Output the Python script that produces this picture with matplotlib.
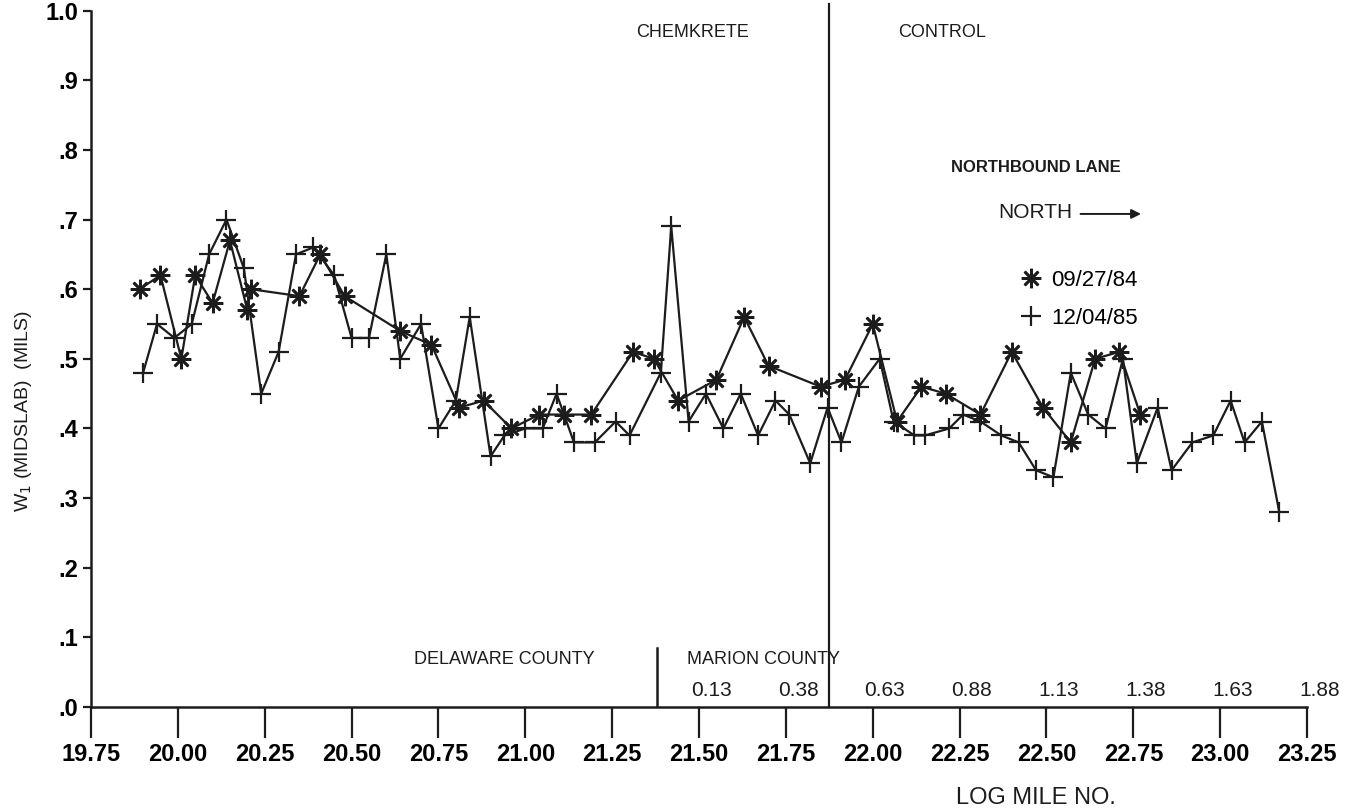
import numpy as np
import matplotlib.pyplot as plt

# W1 deflection readings along the northbound lane, 09/27/84 survey
miles_84 = [19.89, 19.95, 20.01, 20.05, 20.10, 20.15, 20.20, 20.21, 20.35, 20.41,
            20.48, 20.64, 20.73, 20.81, 20.88, 20.96, 21.04, 21.11, 21.19, 21.31,
            21.37, 21.44, 21.55, 21.63, 21.70, 21.85, 21.92, 22.00, 22.07, 22.14,
            22.21, 22.31, 22.40, 22.49, 22.57, 22.64, 22.71, 22.77]
w1_84 = [0.60, 0.62, 0.50, 0.62, 0.58, 0.67, 0.57, 0.60, 0.59, 0.65,
         0.59, 0.54, 0.52, 0.43, 0.44, 0.40, 0.42, 0.42, 0.42, 0.51,
         0.50, 0.44, 0.47, 0.56, 0.49, 0.46, 0.47, 0.55, 0.41, 0.46,
         0.45, 0.42, 0.51, 0.43, 0.38, 0.50, 0.51, 0.42]

# same stations, 12/04/85 survey
miles_85 = [19.90, 19.94, 19.99, 20.04, 20.09, 20.14, 20.19, 20.24, 20.29, 20.34,
            20.39, 20.45, 20.50, 20.55, 20.60, 20.64, 20.70, 20.75, 20.80, 20.84,
            20.90, 20.94, 21.00, 21.05, 21.09, 21.14, 21.20, 21.26, 21.30, 21.39,
            21.42, 21.47, 21.52, 21.57, 21.62, 21.67, 21.72, 21.76, 21.82, 21.87,
            21.91, 21.96, 22.02, 22.06, 22.12, 22.15, 22.22, 22.26, 22.31, 22.37,
            22.42, 22.47, 22.52, 22.57, 22.62, 22.67, 22.72, 22.76, 22.82, 22.86,
            22.92, 22.98, 23.03, 23.07, 23.12, 23.17]
w1_85 = [0.48, 0.55, 0.53, 0.55, 0.65, 0.70, 0.63, 0.45, 0.51, 0.65,
         0.66, 0.62, 0.53, 0.53, 0.65, 0.50, 0.55, 0.40, 0.44, 0.56,
         0.36, 0.39, 0.40, 0.40, 0.45, 0.38, 0.38, 0.41, 0.39, 0.48,
         0.69, 0.41, 0.45, 0.40, 0.45, 0.39, 0.44, 0.42, 0.35, 0.43,
         0.38, 0.46, 0.50, 0.41, 0.39, 0.39, 0.40, 0.42, 0.41, 0.39,
         0.38, 0.34, 0.33, 0.48, 0.42, 0.40, 0.50, 0.35, 0.43, 0.34,
         0.38, 0.39, 0.44, 0.38, 0.41, 0.28]

x_ticks = [19.75, 20.00, 20.25, 20.50, 20.75, 21.00, 21.25, 21.50,
           21.75, 22.00, 22.25, 22.50, 22.75, 23.00, 23.25]
x_tick_labels = ['19.75', '20.00', '20.25', '20.50', '20.75', '21.00', '21.25', '21.50',
                 '21.75', '22.00', '22.25', '22.50', '22.75', '23.00', '23.25']
y_ticks = [0.0, 0.1, 0.2, 0.3, 0.4, 0.5, 0.6, 0.7, 0.8, 0.9, 1.0]
y_tick_labels = ['.0', '.1', '.2', '.3', '.4', '.5', '.6', '.7', '.8', '.9', '1.0']

# Marion County mileposts printed above the log mile ticks
marion_ticks = [21.50, 21.75, 22.00, 22.25, 22.50, 22.75, 23.00, 23.25]
marion_labels = ['0.13', '0.38', '0.63', '0.88', '1.13', '1.38', '1.63', '1.88']

section_break = 21.875   # chemkrete / control boundary
county_line = 21.38      # Delaware / Marion county line

ink = '#1c1c1c'
plt.rcParams['font.family'] = ['Liberation Sans', 'DejaVu Sans']

fig = plt.figure(figsize=(13.58, 8.10), dpi=100)
ax = fig.add_axes([0.067, 0.127, 0.8955, 0.860])

l84, = ax.plot(miles_84, w1_84, color=ink, lw=1.6, marker=(8, 2, 0),
               markersize=14, markeredgewidth=1.9, label='09/27/84')
l85, = ax.plot(miles_85, w1_85, color=ink, lw=1.6, marker='+',
               markersize=14, markeredgewidth=1.6, label='12/04/85')

ax.set_xlim(19.75, 23.25)
ax.set_ylim(0, 1.0)
for side in ['top', 'right']:
    ax.spines[side].set_visible(False)
for side in ['left', 'bottom']:
    ax.spines[side].set_linewidth(1.8)
    ax.spines[side].set_color(ink)

ax.set_xticks(x_ticks)
ax.set_xticklabels(x_tick_labels, fontsize=17, fontweight='bold')
ax.set_yticks(y_ticks)
ax.set_yticklabels(y_tick_labels, fontsize=17, fontweight='bold')
ax.tick_params(axis='x', direction='out', length=22, width=1.6, color=ink, pad=4)
ax.tick_params(axis='y', direction='out', length=6, width=1.6, color=ink, pad=3)

# section boundary and county line
ax.plot([section_break, section_break], [0, 1.01], color=ink, lw=1.6, clip_on=False)
ax.plot([county_line, county_line], [0, 0.085], color=ink, lw=1.8)

for t, lab in zip(marion_ticks, marion_labels):
    ax.text(t + 0.035, 0.024, lab, ha='center', va='center', fontsize=15, color=ink)
ax.text(20.94, 0.068, 'DELAWARE COUNTY', ha='center', va='center', fontsize=13, color=ink)
ax.text(21.465, 0.068, 'MARION COUNTY', ha='left', va='center', fontsize=13, color=ink)

ax.text(21.48, 0.968, 'CHEMKRETE', ha='center', va='center', fontsize=13, color=ink)
ax.text(22.20, 0.968, 'CONTROL', ha='center', va='center', fontsize=13, color=ink)
ax.text(22.47, 0.775, 'NORTHBOUND LANE', ha='center', va='center', fontsize=12,
        fontweight='bold', color=ink)
ax.text(22.575, 0.71, 'NORTH', ha='right', va='center', fontsize=15, color=ink)
ax.annotate('', xy=(22.78, 0.708), xytext=(22.59, 0.708),
            arrowprops=dict(arrowstyle='-|>', lw=1.4, color=ink, mutation_scale=14))

ax.legend(handles=[l84, l85], loc='upper left', bbox_to_anchor=(22.43, 0.64),
          bbox_transform=ax.transData, frameon=False, handlelength=0,
          handletextpad=0.9, fontsize=16, labelspacing=0.75, borderaxespad=0)

ax.set_ylabel('W$_1$ (MIDSLAB)  (MILS)', fontsize=14, color=ink)
ax.yaxis.set_label_coords(-0.047, 0.425)
ax.text(22.47, -0.13, 'LOG MILE NO.', ha='center', va='center', fontsize=17,
        color=ink, clip_on=False)

fig.savefig('out.png', dpi=100, facecolor='white')
